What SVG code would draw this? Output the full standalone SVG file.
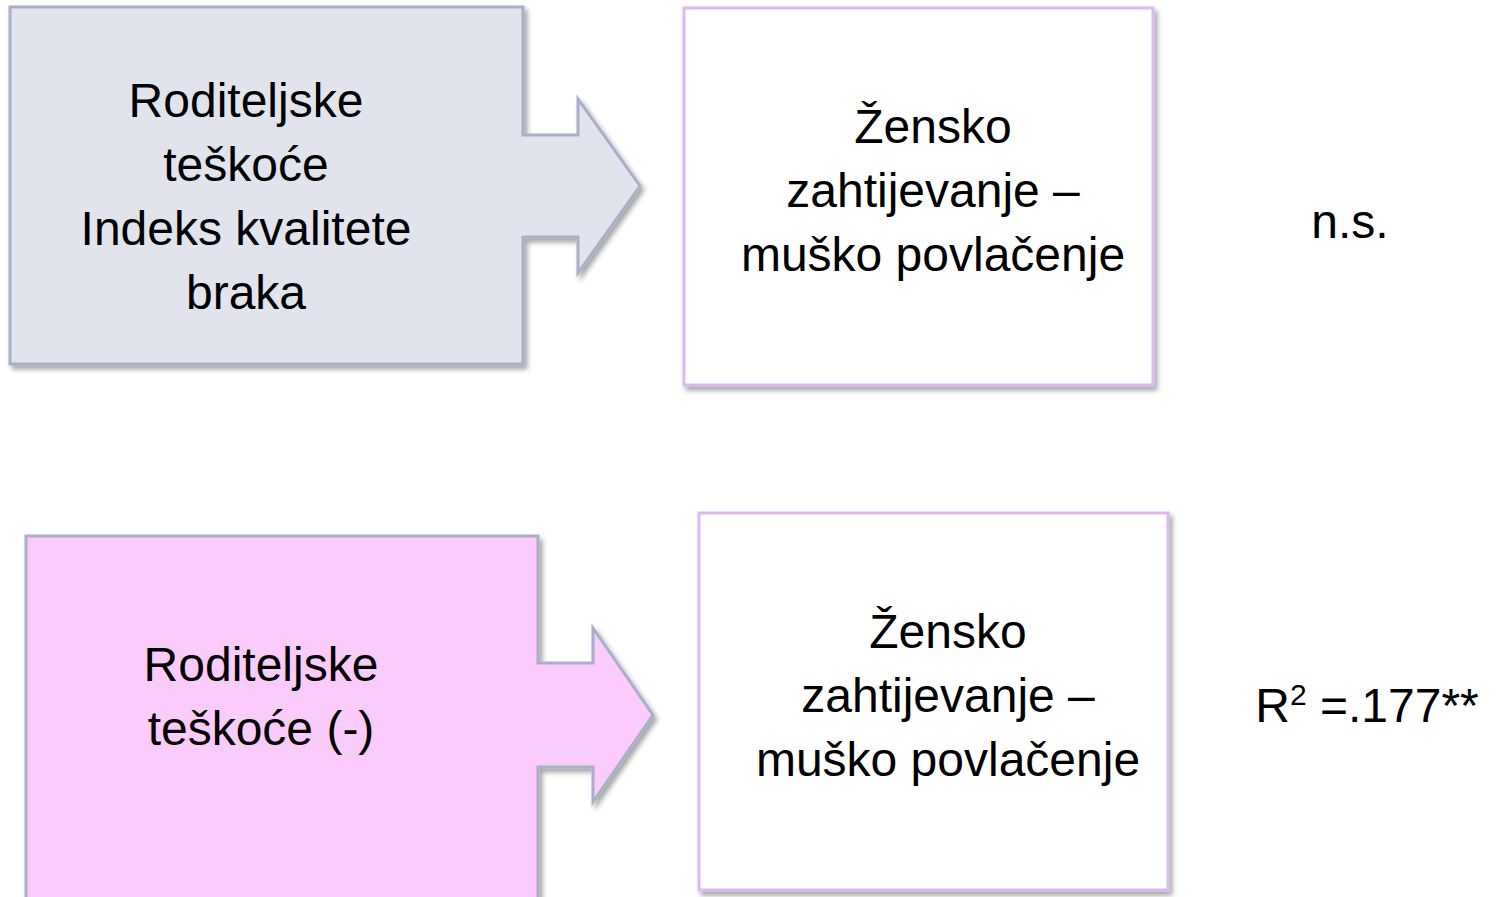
<svg xmlns="http://www.w3.org/2000/svg" width="1500" height="897" viewBox="0 0 1500 897">
<style>
  .t { font-family: "Liberation Sans", Arial, sans-serif; font-size: 48px; fill: #000; text-anchor: middle; }
  .arrow { stroke: #a9afc8; stroke-width: 3; stroke-linejoin: miter; }
  .box { fill: #ffffff; stroke: #dcb8f2; stroke-width: 3; }
</style>
<defs>
  <filter id="sh" x="-5%" y="-5%" width="115%" height="115%">
    <feDropShadow dx="3" dy="4" stdDeviation="2.5" flood-color="#000" flood-opacity="0.35"/>
  </filter>
</defs>
<rect width="1500" height="897" fill="#ffffff"/>
<g id="connectors"></g>
<g id="node-top-source">
  <path class="arrow" filter="url(#sh)" fill="#e1e4ec" d="M10,7 H523 V135 H578 V99 L640,186 L578,273 V237 H523 V364 H10 Z"/>
  <text class="t" x="246" y="117">Roditeljske</text>
  <text class="t" x="246" y="181">teškoće</text>
  <text class="t" x="246" y="245">Indeks kvalitete</text>
  <text class="t" x="246" y="309">braka</text>
</g>
<g id="node-top-target">
  <rect class="box" filter="url(#sh)" x="684" y="8" width="469" height="377"/>
  <text class="t" x="933" y="143">Žensko</text>
  <text class="t" x="933" y="207">zahtijevanje –</text>
  <text class="t" x="933" y="271">muško povlačenje</text>
</g>
<g id="label-top">
  <text class="t" x="1350" y="238">n.s.</text>
</g>
<g id="node-bottom-source">
  <path class="arrow" filter="url(#sh)" fill="#fbcbfb" d="M26,536 H538 V663 H593 V628 L653,715 L593,802 V767 H538 V960 H26 Z"/>
  <text class="t" x="261" y="681">Roditeljske</text>
  <text class="t" x="261" y="745">teškoće (-)</text>
</g>
<g id="node-bottom-target">
  <rect class="box" filter="url(#sh)" x="699" y="513" width="469" height="377"/>
  <text class="t" x="948" y="648">Žensko</text>
  <text class="t" x="948" y="712">zahtijevanje –</text>
  <text class="t" x="948" y="776">muško povlačenje</text>
</g>
<g id="label-bottom">
  <text class="t" x="1367" y="722">R<tspan font-size="30" dy="-17">2</tspan><tspan dy="17"> =.177**</tspan></text>
</g>
</svg>
